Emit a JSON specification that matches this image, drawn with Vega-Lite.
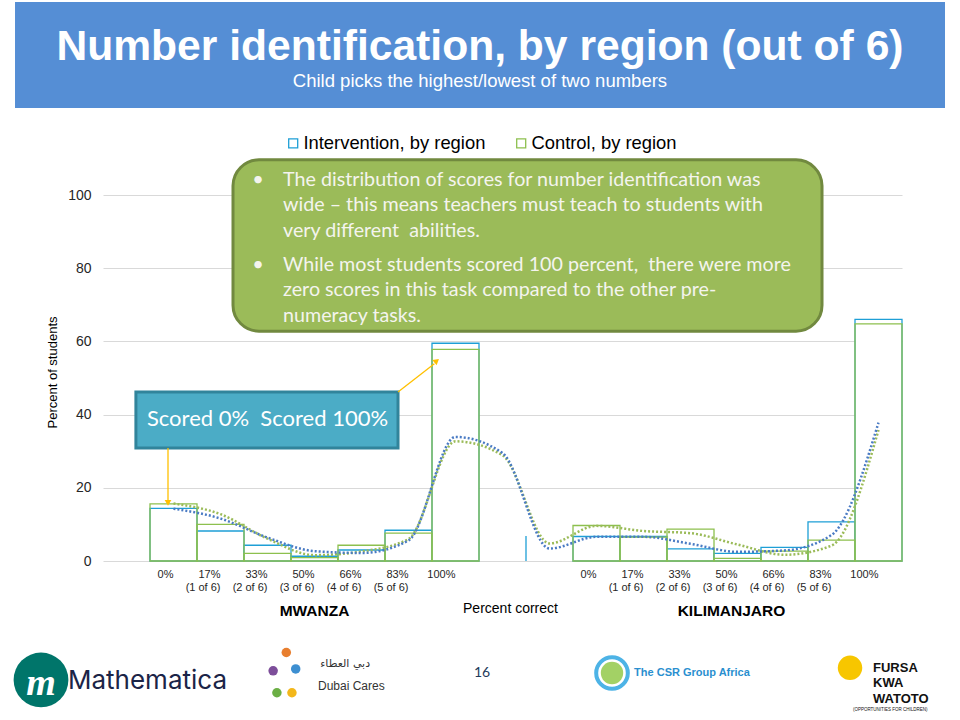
{
  "$schema": "https://vega.github.io/schema/vega-lite/v6.json",
  "width": 799,
  "height": 366,
  "autosize": {"type": "none"},
  "padding": {"left": 103, "top": 195, "right": 58, "bottom": 159},
  "background": "white",
  "config": {
    "view": {"stroke": null},
    "font": "Liberation Sans",
    "axis": {"labelFont": "Liberation Sans", "titleFont": "Liberation Sans"},
    "legend": {"labelFont": "Liberation Sans"}
  },
  "datasets": {
    "bars": [
      {"slot": "M|0%", "series": "Intervention, by region", "value": 14.4},
      {"slot": "M|17%|(1 of 6)", "series": "Intervention, by region", "value": 8.2},
      {"slot": "M|33%|(2 of 6)", "series": "Intervention, by region", "value": 4.3},
      {"slot": "M|50%|(3 of 6)", "series": "Intervention, by region", "value": 1.3},
      {"slot": "M|66%|(4 of 6)", "series": "Intervention, by region", "value": 3.0},
      {"slot": "M|83%|(5 of 6)", "series": "Intervention, by region", "value": 8.4},
      {"slot": "M|100%", "series": "Intervention, by region", "value": 59.5},
      {"slot": "K|0%", "series": "Intervention, by region", "value": 6.7},
      {"slot": "K|17%|(1 of 6)", "series": "Intervention, by region", "value": 6.7},
      {"slot": "K|33%|(2 of 6)", "series": "Intervention, by region", "value": 3.3},
      {"slot": "K|50%|(3 of 6)", "series": "Intervention, by region", "value": 2.1},
      {"slot": "K|66%|(4 of 6)", "series": "Intervention, by region", "value": 3.7},
      {"slot": "K|83%|(5 of 6)", "series": "Intervention, by region", "value": 10.7},
      {"slot": "K|100%", "series": "Intervention, by region", "value": 66.0},
      {"slot": "M|0%", "series": "Control, by region", "value": 15.6},
      {"slot": "M|17%|(1 of 6)", "series": "Control, by region", "value": 10.0},
      {"slot": "M|33%|(2 of 6)", "series": "Control, by region", "value": 2.1},
      {"slot": "M|50%|(3 of 6)", "series": "Control, by region", "value": 0.9},
      {"slot": "M|66%|(4 of 6)", "series": "Control, by region", "value": 4.3},
      {"slot": "M|83%|(5 of 6)", "series": "Control, by region", "value": 7.6},
      {"slot": "M|100%", "series": "Control, by region", "value": 57.8},
      {"slot": "K|0%", "series": "Control, by region", "value": 9.7},
      {"slot": "K|17%|(1 of 6)", "series": "Control, by region", "value": 6.5},
      {"slot": "K|33%|(2 of 6)", "series": "Control, by region", "value": 8.7},
      {"slot": "K|50%|(3 of 6)", "series": "Control, by region", "value": 0.7},
      {"slot": "K|66%|(4 of 6)", "series": "Control, by region", "value": 2.7},
      {"slot": "K|83%|(5 of 6)", "series": "Control, by region", "value": 5.7},
      {"slot": "K|100%", "series": "Control, by region", "value": 64.8}
    ],
    "stub": [
      {"slot": "G2", "series": "Intervention, by region", "value": 6.8}
    ],
    "trend": [
      {"slot": "M|0%", "series": "Intervention", "v": 14.3},
      {"slot": "M|17%|(1 of 6)", "series": "Intervention", "v": 11.6},
      {"slot": "M|33%|(2 of 6)", "series": "Intervention", "v": 6.4},
      {"slot": "M|50%|(3 of 6)", "series": "Intervention", "v": 2.7},
      {"slot": "M|66%|(4 of 6)", "series": "Intervention", "v": 2.2},
      {"slot": "M|83%|(5 of 6)", "series": "Intervention", "v": 5.6},
      {"slot": "M|100%", "series": "Intervention", "v": 33.9},
      {"slot": "G1", "series": "Intervention", "v": 29.5},
      {"slot": "G2", "series": "Intervention", "v": 3.4},
      {"slot": "K|0%", "series": "Intervention", "v": 6.6},
      {"slot": "K|17%|(1 of 6)", "series": "Intervention", "v": 6.6},
      {"slot": "K|33%|(2 of 6)", "series": "Intervention", "v": 4.7},
      {"slot": "K|50%|(3 of 6)", "series": "Intervention", "v": 2.5},
      {"slot": "K|66%|(4 of 6)", "series": "Intervention", "v": 2.9},
      {"slot": "K|83%|(5 of 6)", "series": "Intervention", "v": 7.1},
      {"slot": "K|100%", "series": "Intervention", "v": 37.8},
      {"slot": "M|0%", "series": "Control", "v": 15.7},
      {"slot": "M|17%|(1 of 6)", "series": "Control", "v": 12.8},
      {"slot": "M|33%|(2 of 6)", "series": "Control", "v": 6.1},
      {"slot": "M|50%|(3 of 6)", "series": "Control", "v": 1.6},
      {"slot": "M|66%|(4 of 6)", "series": "Control", "v": 2.6},
      {"slot": "M|83%|(5 of 6)", "series": "Control", "v": 6.0},
      {"slot": "M|100%", "series": "Control", "v": 32.7},
      {"slot": "G1", "series": "Control", "v": 28.9},
      {"slot": "G2", "series": "Control", "v": 4.8},
      {"slot": "K|0%", "series": "Control", "v": 9.6},
      {"slot": "K|17%|(1 of 6)", "series": "Control", "v": 8.2},
      {"slot": "K|33%|(2 of 6)", "series": "Control", "v": 7.6},
      {"slot": "K|50%|(3 of 6)", "series": "Control", "v": 4.5},
      {"slot": "K|66%|(4 of 6)", "series": "Control", "v": 1.7},
      {"slot": "K|83%|(5 of 6)", "series": "Control", "v": 4.2},
      {"slot": "K|100%", "series": "Control", "v": 35.8}
    ],
    "one": [{}]
  },
  "layer": [
    {
      "data": {"name": "one"},
      "mark": {"type": "rect", "fill": "#558ED5"},
      "encoding": {
        "x": {"datum": "S0", "bandPosition": -1.872},
        "x2": {"datum": "K|100%", "bandPosition": 1.915},
        "y": {"datum": 152.7},
        "y2": {"datum": 123.8}
      }
    },
    {
      "data": {"name": "one"},
      "mark": {"type": "text", "text": "Number identification, by region (out of 6)", "font": "Liberation Sans", "fontWeight": "bold", "fontSize": 42.6, "fill": "white", "align": "center", "baseline": "alphabetic"},
      "encoding": {"x": {"datum": "G1", "bandPosition": 0.02}, "y": {"datum": 136.9}}
    },
    {
      "data": {"name": "one"},
      "mark": {"type": "text", "text": "Child picks the highest/lowest of two numbers", "font": "Liberation Sans", "fontSize": 18.5, "fill": "white", "align": "center", "baseline": "alphabetic"},
      "encoding": {"x": {"datum": "G1", "bandPosition": 0.02}, "y": {"datum": 129.4}}
    },
    {
      "data": {"name": "bars"},
      "mark": {"type": "bar", "strokeWidth": 1.3},
      "encoding": {
        "x": {
          "field": "slot", "type": "nominal",
          "scale": {"domain": ["S0", "M|0%", "M|17%|(1 of 6)", "M|33%|(2 of 6)", "M|50%|(3 of 6)", "M|66%|(4 of 6)", "M|83%|(5 of 6)", "M|100%", "G1", "G2", "K|0%", "K|17%|(1 of 6)", "K|33%|(2 of 6)", "K|50%|(3 of 6)", "K|66%|(4 of 6)", "K|83%|(5 of 6)", "K|100%"], "paddingInner": 0, "paddingOuter": 0},
          "axis": {
            "title": "Percent correct", "titleFontSize": 14, "titleFontWeight": "normal", "titleColor": "#000000",
            "titleX": 407, "titleY": 47, "titleAlign": "center", "titleBaseline": "middle",
            "labelAngle": 0, "labelExpr": "slice(split(datum.value, '|'), 1)", "labelFontSize": 11, "labelColor": "#262626",
            "labelLineHeight": 13, "labelBaseline": "top", "labelPadding": 7, "ticks": false, "domain": false, "grid": false
          }
        },
        "y": {
          "field": "value", "type": "quantitative", "stack": null,
          "scale": {"domain": [0, 100], "nice": false},
          "axis": {
            "title": "Percent of students", "titleFontSize": 13, "titleFontWeight": "normal", "titleColor": "#000000",
            "titleX": -51, "titleY": 177, "titleAlign": "center", "titleBaseline": "middle", "titleAngle": -90,
            "values": [0, 20, 40, 60, 80, 100], "labelFontSize": 14, "labelColor": "#262626", "labelPadding": 12,
            "ticks": false, "domain": false, "grid": true, "gridColor": "#D9D9D9", "gridWidth": 1
          }
        },
        "stroke": {
          "field": "series", "type": "nominal",
          "scale": {"domain": ["Intervention, by region", "Control, by region"], "range": ["#1E9FD6", "#8DC04E"]},
          "legend": {
            "title": null, "orient": "none", "legendX": 181, "legendY": -61, "direction": "horizontal",
            "symbolType": "square", "symbolSize": 81, "symbolFillColor": "white", "symbolStrokeWidth": 1.3,
            "labelFontSize": 18.4, "labelColor": "#000000", "labelOffset": 1, "labelLimit": 0, "columnPadding": 26, "padding": 0
          }
        },
        "fill": {"condition": {"test": "datum.series === 'Intervention, by region'", "value": "white"}, "value": "transparent"}
      }
    },
    {
      "data": {"name": "stub"},
      "mark": {"type": "rule", "stroke": "#1E9FD6", "strokeWidth": 1.3},
      "encoding": {
        "x": {"field": "slot", "type": "nominal", "bandPosition": 0},
        "y": {"field": "value", "type": "quantitative"},
        "y2": {"datum": 0}
      }
    },
    {
      "data": {"name": "trend"},
      "transform": [{"filter": "datum.series === 'Control'"}],
      "mark": {"type": "line", "stroke": "#9BBB59", "strokeWidth": 2.5, "strokeDash": [2, 2], "interpolate": "monotone"},
      "encoding": {
        "x": {"field": "slot", "type": "nominal"},
        "y": {"field": "v", "type": "quantitative"}
      }
    },
    {
      "data": {"name": "trend"},
      "transform": [{"filter": "datum.series === 'Intervention'"}],
      "mark": {"type": "line", "stroke": "#4A7BC4", "strokeWidth": 2.5, "strokeDash": [2, 2], "interpolate": "monotone"},
      "encoding": {
        "x": {"field": "slot", "type": "nominal"},
        "y": {"field": "v", "type": "quantitative"}
      }
    },
    {
      "data": {"name": "one"},
      "mark": {"type": "rect", "fill": "#9BBB59", "stroke": "#71893F", "strokeWidth": 3, "cornerRadius": 26},
      "encoding": {
        "x": {"datum": "M|17%|(1 of 6)", "bandPosition": 0.766},
        "x2": {"datum": "K|83%|(5 of 6)", "bandPosition": 0.298},
        "y": {"datum": 109.6},
        "y2": {"datum": 62.8}
      }
    },
    {
      "data": {"name": "one"},
      "mark": {"type": "text", "text": "•", "font": "Lato", "fontSize": 20, "fill": "#F4F4EE", "align": "center", "baseline": "middle"},
      "encoding": {"x": {"datum": "M|33%|(2 of 6)", "bandPosition": 0.3}, "y": {"datum": 104.1}}
    },
    {
      "data": {"name": "one"},
      "mark": {"type": "text", "text": "•", "font": "Lato", "fontSize": 20, "fill": "#F4F4EE", "align": "center", "baseline": "middle"},
      "encoding": {"x": {"datum": "M|33%|(2 of 6)", "bandPosition": 0.3}, "y": {"datum": 80.9}}
    },
    {
      "data": {"name": "one"},
      "mark": {"type": "text", "text": ["The distribution of scores for number identification was", "wide – this means teachers must teach to students with", "very different\u00a0 abilities."], "font": "Lato", "fontSize": 19.7, "lineHeight": 25.5, "fill": "#F4F4EE", "align": "left", "baseline": "middle"},
      "encoding": {"x": {"datum": "M|33%|(2 of 6)", "bandPosition": 0.83}, "y": {"datum": 104.1}}
    },
    {
      "data": {"name": "one"},
      "mark": {"type": "text", "text": ["While most students scored 100 percent,\u00a0 there were more", "zero scores in this task compared to the other pre-", "numeracy tasks."], "font": "Lato", "fontSize": 19.7, "lineHeight": 25.5, "fill": "#F4F4EE", "align": "left", "baseline": "middle"},
      "encoding": {"x": {"datum": "M|33%|(2 of 6)", "bandPosition": 0.83}, "y": {"datum": 80.9}}
    },
    {
      "data": {"name": "one"},
      "mark": {"type": "rect", "fill": "#4BACC6", "stroke": "#31849B", "strokeWidth": 3},
      "encoding": {
        "x": {"datum": "S0", "bandPosition": 0.70},
        "x2": {"datum": "M|83%|(5 of 6)", "bandPosition": 0.277},
        "y": {"datum": 46.2},
        "y2": {"datum": 30.9}
      }
    },
    {
      "data": {"name": "one"},
      "mark": {"type": "text", "text": "Scored 0%\u00a0 Scored 100%", "font": "Lato", "fontSize": 22, "fill": "white", "align": "center", "baseline": "middle"},
      "encoding": {"x": {"datum": "M|33%|(2 of 6)", "bandPosition": 0.5}, "y": {"datum": 38.8}}
    },
    {
      "data": {"name": "one"},
      "mark": {"type": "rule", "stroke": "#FFC000", "strokeWidth": 1.3},
      "encoding": {
        "x": {"datum": "M|0%", "bandPosition": 0.383},
        "y": {"datum": 30.9},
        "y2": {"datum": 16.6}
      }
    },
    {
      "data": {"name": "one"},
      "mark": {"type": "point", "shape": "triangle-down", "filled": true, "fill": "#FFC000", "size": 45, "opacity": 1},
      "encoding": {
        "x": {"datum": "M|0%", "bandPosition": 0.383},
        "y": {"datum": 15.9}
      }
    },
    {
      "data": {"name": "one"},
      "mark": {"type": "rule", "stroke": "#FFC000", "strokeWidth": 1.3},
      "encoding": {
        "x": {"datum": "M|83%|(5 of 6)", "bandPosition": 0.277},
        "x2": {"datum": "M|100%", "bandPosition": 0.05},
        "y": {"datum": 46.2},
        "y2": {"datum": 53.9}
      }
    },
    {
      "data": {"name": "one"},
      "mark": {"type": "point", "shape": "triangle-up", "filled": true, "fill": "#FFC000", "size": 45, "opacity": 1, "angle": 50},
      "encoding": {
        "x": {"datum": "M|100%", "bandPosition": 0.1},
        "y": {"datum": 54.7}
      }
    },
    {
      "data": {"name": "one"},
      "mark": {"type": "text", "text": "MWANZA", "font": "Liberation Sans", "fontWeight": "bold", "fontSize": 15.5, "fill": "#000000", "align": "center", "baseline": "middle"},
      "encoding": {"x": {"datum": "M|50%|(3 of 6)", "bandPosition": 0.5}, "y": {"datum": -13.7}}
    },
    {
      "data": {"name": "one"},
      "mark": {"type": "text", "text": "KILIMANJARO", "font": "Liberation Sans", "fontWeight": "bold", "fontSize": 15.5, "fill": "#000000", "align": "center", "baseline": "middle"},
      "encoding": {"x": {"datum": "K|50%|(3 of 6)", "bandPosition": 0.372}, "y": {"datum": -13.7}}
    },
    {
      "data": {"name": "one"},
      "mark": {"type": "point", "shape": "circle", "filled": true, "fill": "#00756A", "size": 3000, "opacity": 1},
      "encoding": {"x": {"datum": "S0", "bandPosition": -1.319}, "y": {"datum": -32.5}}
    },
    {
      "data": {"name": "one"},
      "mark": {"type": "text", "text": "m", "font": "Liberation Serif", "fontStyle": "italic", "fontWeight": "bold", "fontSize": 38, "fill": "white", "align": "center", "baseline": "middle"},
      "encoding": {"x": {"datum": "S0", "bandPosition": -1.319}, "y": {"datum": -33.5}}
    },
    {
      "data": {"name": "one"},
      "mark": {"type": "text", "text": "Mathematica", "font": "Inter", "fontSize": 26, "fill": "#1B2447", "align": "left", "baseline": "middle"},
      "encoding": {"x": {"datum": "S0", "bandPosition": -0.745}, "y": {"datum": -32.8}}
    },
    {
      "data": {"name": "one"},
      "mark": {"type": "point", "shape": "circle", "filled": true, "fill": "#E87E2E", "size": 90, "opacity": 1},
      "encoding": {"x": {"datum": "M|33%|(2 of 6)", "bandPosition": 0.9}, "y": {"datum": -25.0}}
    },
    {
      "data": {"name": "one"},
      "mark": {"type": "point", "shape": "circle", "filled": true, "fill": "#3D8FD1", "size": 90, "opacity": 1},
      "encoding": {"x": {"datum": "M|50%|(3 of 6)", "bandPosition": 0.1}, "y": {"datum": -29.5}}
    },
    {
      "data": {"name": "one"},
      "mark": {"type": "point", "shape": "circle", "filled": true, "fill": "#F3B71B", "size": 90, "opacity": 1},
      "encoding": {"x": {"datum": "M|33%|(2 of 6)", "bandPosition": 1.02}, "y": {"datum": -36.0}}
    },
    {
      "data": {"name": "one"},
      "mark": {"type": "point", "shape": "circle", "filled": true, "fill": "#6BAF45", "size": 90, "opacity": 1},
      "encoding": {"x": {"datum": "M|33%|(2 of 6)", "bandPosition": 0.7}, "y": {"datum": -36.0}}
    },
    {
      "data": {"name": "one"},
      "mark": {"type": "point", "shape": "circle", "filled": true, "fill": "#7D4E9A", "size": 90, "opacity": 1},
      "encoding": {"x": {"datum": "M|33%|(2 of 6)", "bandPosition": 0.62}, "y": {"datum": -30.0}}
    },
    {
      "data": {"name": "one"},
      "mark": {"type": "text", "text": "دبي العطاء", "font": "DejaVu Sans", "fontSize": 11, "fill": "#333333", "align": "left", "baseline": "middle"},
      "encoding": {"x": {"datum": "M|50%|(3 of 6)", "bandPosition": 0.62}, "y": {"datum": -28.1}}
    },
    {
      "data": {"name": "one"},
      "mark": {"type": "text", "text": "Dubai Cares", "font": "Liberation Sans", "fontSize": 12, "fill": "#333333", "align": "left", "baseline": "middle"},
      "encoding": {"x": {"datum": "M|50%|(3 of 6)", "bandPosition": 0.574}, "y": {"datum": -34.2}}
    },
    {
      "data": {"name": "one"},
      "mark": {"type": "text", "text": "16", "font": "Lato", "fontSize": 14, "fill": "#1F3B5C", "align": "center", "baseline": "middle"},
      "encoding": {"x": {"datum": "G1", "bandPosition": 0.064}, "y": {"datum": -30.6}}
    },
    {
      "data": {"name": "one"},
      "mark": {"type": "point", "shape": "circle", "filled": false, "stroke": "#4DB3E6", "strokeWidth": 4, "size": 1000, "opacity": 1},
      "encoding": {"x": {"datum": "K|0%", "bandPosition": 0.83}, "y": {"datum": -30.6}}
    },
    {
      "data": {"name": "one"},
      "mark": {"type": "point", "shape": "circle", "filled": true, "fill": "#8CC63F", "size": 500, "opacity": 0.8},
      "encoding": {"x": {"datum": "K|0%", "bandPosition": 0.83}, "y": {"datum": -30.6}}
    },
    {
      "data": {"name": "one"},
      "mark": {"type": "text", "text": "The CSR Group Africa", "font": "Liberation Sans", "fontWeight": "bold", "fontSize": 11, "fill": "#2A8FCF", "align": "left", "baseline": "middle"},
      "encoding": {"x": {"datum": "K|17%|(1 of 6)", "bandPosition": 0.30}, "y": {"datum": -30.6}}
    },
    {
      "data": {"name": "one"},
      "mark": {"type": "point", "shape": "circle", "filled": true, "fill": "#F7C600", "size": 600, "opacity": 1},
      "encoding": {"x": {"datum": "K|83%|(5 of 6)", "bandPosition": 0.894}, "y": {"datum": -29.2}}
    },
    {
      "data": {"name": "one"},
      "mark": {"type": "text", "text": ["FURSA", "KWA", "WATOTO"], "font": "Liberation Sans", "fontWeight": "bold", "fontSize": 13, "lineHeight": 15.5, "fill": "#111111", "align": "left", "baseline": "middle"},
      "encoding": {"x": {"datum": "K|100%", "bandPosition": 0.383}, "y": {"datum": -29.2}}
    },
    {
      "data": {"name": "one"},
      "mark": {"type": "text", "text": "(OPPORTUNITIES FOR CHILDREN)", "font": "Liberation Sans", "fontSize": 4.5, "fill": "#111111", "align": "center", "baseline": "middle"},
      "encoding": {"x": {"datum": "K|100%", "bandPosition": 0.75}, "y": {"datum": -40.6}}
    }
  ]
}
